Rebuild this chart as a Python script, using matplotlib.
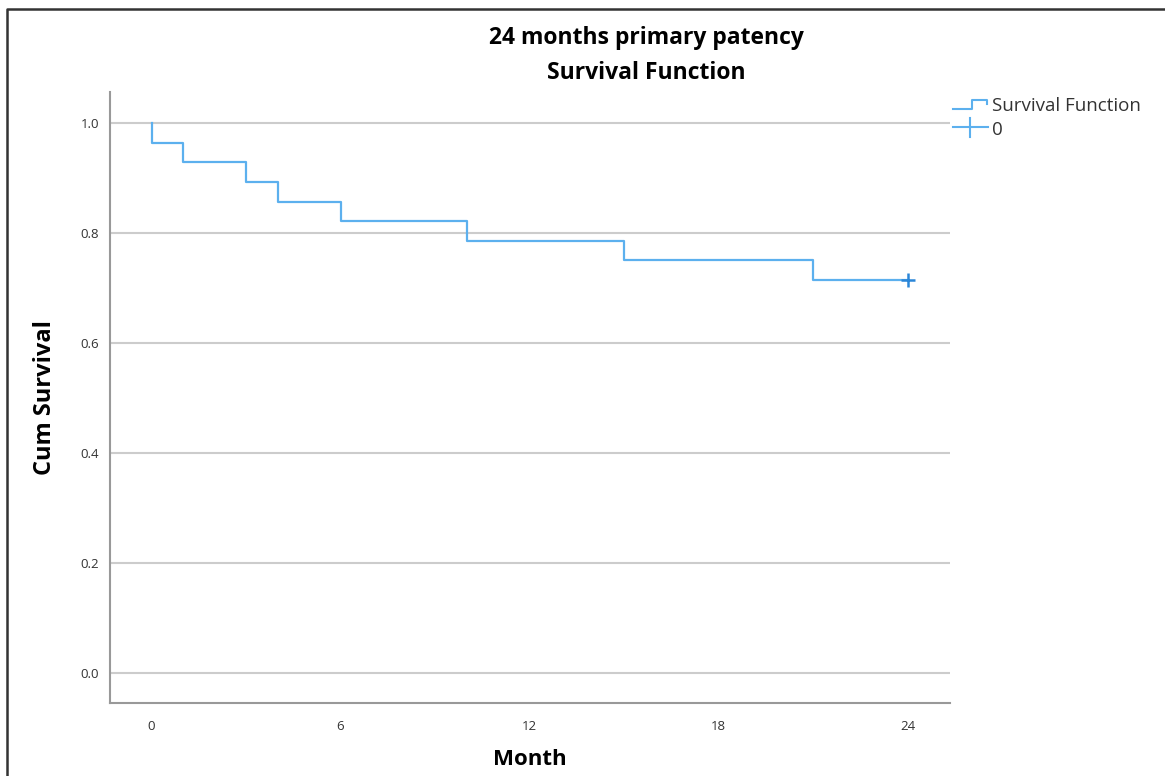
import matplotlib
matplotlib.use("Agg")
import matplotlib.pyplot as plt
from matplotlib.lines import Line2D

# Kaplan-Meier estimate
times = [0, 0, 1, 3, 4, 6, 10, 15, 21, 24]
surv = [1.0, 0.964, 0.929, 0.893, 0.857, 0.821, 0.786, 0.750, 0.714, 0.714]
censor_t = [24]
censor_s = [0.714]
xticks = [0, 6, 12, 18, 24]
yticks = [0.0, 0.2, 0.4, 0.6, 0.8, 1.0]

line_col = "#5cb0ee"
mark_col = "#2b86d8"
font = ["Open Sans", "DejaVu Sans"]

fig = plt.figure(figsize=(11.65, 7.76), dpi=100)
ax = fig.add_axes([0.0944, 0.0941, 0.7211, 0.7873])

ax.plot(times, surv, drawstyle="steps-post", color=line_col, lw=1.6)
ax.plot(censor_t, censor_s, "+", color=mark_col, ms=10, mew=1.8)

ax.set_xlim(-1.32, 25.35)
ax.set_ylim(-0.0545, 1.056)
ax.set_xticks(xticks)
ax.set_yticks(yticks)
ax.set_yticklabels(["%.1f" % v for v in yticks])
ax.tick_params(length=0, labelsize=9.5, labelcolor="#333333")
ax.tick_params(axis="x", pad=12)
ax.tick_params(axis="y", pad=8)
for lab in ax.get_xticklabels() + ax.get_yticklabels():
    lab.set_family(font)
ax.grid(axis="y", color="#cccccc", lw=1.5)
ax.set_axisbelow(True)
for s in ["top", "right"]:
    ax.spines[s].set_visible(False)
for s in ["left", "bottom"]:
    ax.spines[s].set_color("#999999")
    ax.spines[s].set_linewidth(1.5)

ax.set_xlabel("Month", fontsize=16, fontweight="bold", family=font)
ax.set_ylabel("Cum Survival", fontsize=17, fontweight="bold", family=font)
ax.xaxis.set_label_coords(0.5, -0.093)
ax.xaxis.label.set_va("center")
ax.yaxis.set_label_coords(-0.077, 0.5)
ax.yaxis.label.set_va("center")

fig.text(0.5545, 0.951, "24 months primary patency", ha="center", va="center",
         fontsize=16.5, fontweight="bold", family=font)
fig.text(0.5545, 0.906, "Survival Function", ha="center", va="center",
         fontsize=16.5, fontweight="bold", family=font)

# legend drawn by hand (step-shaped key)
def fx(px):
    return px / 1165.0

def fy(py):
    return 1 - py / 776.0

fig.add_artist(Line2D([fx(953), fx(972), fx(972), fx(987), fx(987)],
                      [fy(109), fy(109), fy(100), fy(100), fy(104)],
                      color=line_col, lw=1.5))
fig.add_artist(Line2D([fx(953), fx(988)], [fy(127), fy(127)], color=line_col, lw=1.5))
fig.add_artist(Line2D([fx(970), fx(970)], [fy(118), fy(137)], color=line_col, lw=1.5))
fig.text(fx(992), fy(106), "Survival Function", ha="left", va="center",
         fontsize=13.5, family=font, color="#333333")
fig.text(fx(992), fy(130), "0", ha="left", va="center",
         fontsize=13.5, family=font, color="#333333")

# outer frame (left and top edges)
fig.add_artist(Line2D([fx(7), fx(7), fx(1165)], [0, fy(9), fy(9)], color="#333333", lw=1.8))

fig.savefig("out.png", dpi=100)
